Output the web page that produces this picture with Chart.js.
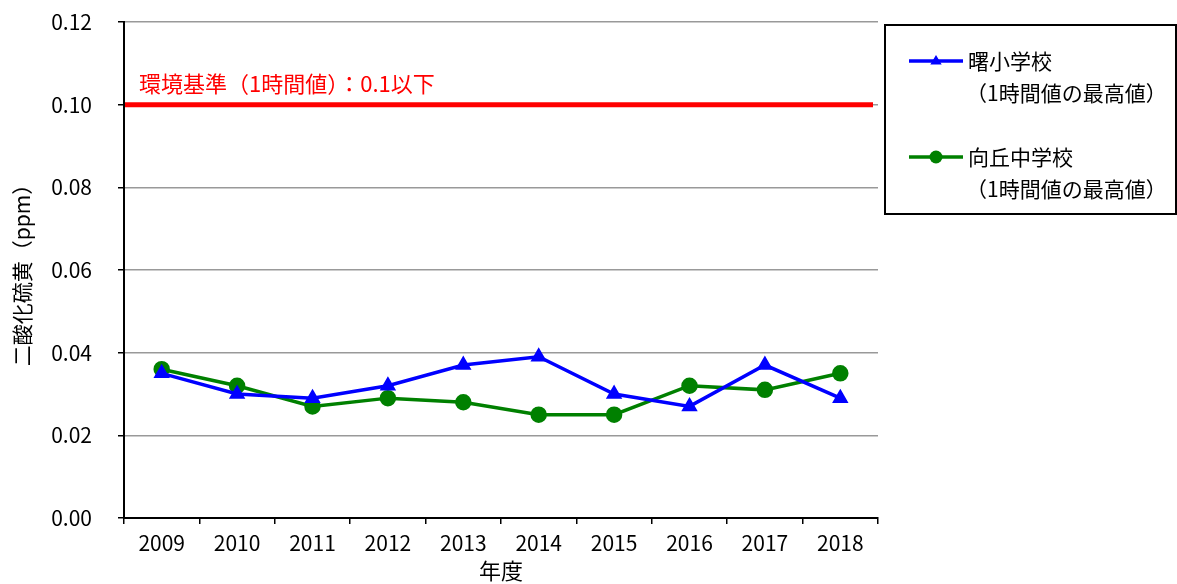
<!DOCTYPE html>
<html lang="ja">
<head>
<meta charset="utf-8">
<title>二酸化硫黄</title>
<script src="https://cdn.jsdelivr.net/npm/chart.js@4.4.1/dist/chart.umd.min.js"></script>
<style>
  html, body { margin: 0; padding: 0; background: #fff; }
  #wrap { width: 1177px; height: 584px; }
</style>
</head>
<body>
<div id="wrap"><canvas id="c" width="1177" height="584"></canvas></div>
<script>
const years = ['2009','2010','2011','2012','2013','2014','2015','2016','2017','2018'];
const akebonoValues = [0.035, 0.030, 0.029, 0.032, 0.037, 0.039, 0.030, 0.027, 0.037, 0.029];
const mukaigaokaValues = [0.036, 0.032, 0.027, 0.029, 0.028, 0.025, 0.025, 0.032, 0.031, 0.035];
const seriesNames = ['曙小学校', '向丘中学校'];
const seriesSubtitle = '（1時間値の最高値）';
const standardValue = 0.1;
const standardLabel = '環境基準（1時間値）：0.1以下';
const yTitle = '二酸化硫黄（ppm）';
const xTitle = '年度';

const jpFamily = '"Noto Sans CJK JP", sans-serif';

const standardPlugin = {
  id: 'standardLine',
  beforeDatasetsDraw(chart) {
    const {ctx, chartArea, scales} = chart;
    const y = scales.y.getPixelForValue(standardValue);
    ctx.save();
    ctx.strokeStyle = '#ff0000';
    ctx.lineWidth = 5;
    ctx.beginPath();
    ctx.moveTo(chartArea.left + 1, y);
    ctx.lineTo(chartArea.right - 5, y);
    ctx.stroke();
    ctx.fillStyle = '#ff0000';
    ctx.font = '22px ' + jpFamily;
    ctx.textBaseline = 'middle';
    ctx.textAlign = 'left';
    ctx.fillText(standardLabel, chartArea.left + 15, y - 21);
    ctx.restore();
  }
};

const legendPlugin = {
  id: 'boxLegend',
  afterDraw(chart) {
    const {ctx} = chart;
    ctx.save();
    ctx.strokeStyle = '#000';
    ctx.lineWidth = 2;
    ctx.strokeRect(885, 25, 291, 189);
    const rows = [61, 157];
    chart.data.datasets.forEach((ds, i) => {
      const y = rows[i];
      ctx.strokeStyle = ds.borderColor;
      ctx.lineWidth = ds.borderWidth;
      ctx.beginPath();
      ctx.moveTo(909, y);
      ctx.lineTo(963, y);
      ctx.stroke();
      ctx.fillStyle = ds.pointBackgroundColor;
      ctx.beginPath();
      if (ds.pointStyle === 'triangle') {
        const r = 6;
        ctx.moveTo(936, y - r);
        ctx.lineTo(936 + r * 0.95, y + r * 0.6);
        ctx.lineTo(936 - r * 0.95, y + r * 0.6);
        ctx.closePath();
      } else {
        ctx.arc(936, y, 6.5, 0, Math.PI * 2);
      }
      ctx.fill();
      ctx.fillStyle = '#000';
      ctx.font = '21px ' + jpFamily;
      ctx.textBaseline = 'middle';
      ctx.textAlign = 'left';
      ctx.fillText(ds.label, 968, y);
      ctx.fillText(seriesSubtitle, 966, y + 32);
    });
    ctx.restore();
  }
};

new Chart(document.getElementById('c'), {
  type: 'line',
  data: {
    labels: years,
    datasets: [
      {
        label: seriesNames[0],
        data: akebonoValues,
        borderColor: '#0000ff',
        backgroundColor: '#0000ff',
        pointBackgroundColor: '#0000ff',
        pointBorderColor: '#0000ff',
        borderWidth: 3.5,
        pointStyle: 'triangle',
        pointRadius: 6,
        tension: 0,
        fill: false
      },
      {
        label: seriesNames[1],
        data: mukaigaokaValues,
        borderColor: '#008000',
        backgroundColor: '#008000',
        pointBackgroundColor: '#008000',
        pointBorderColor: '#008000',
        borderWidth: 3.5,
        pointStyle: 'circle',
        pointRadius: 6.5,
        tension: 0,
        fill: false
      }
    ]
  },
  options: {
    responsive: false,
    animation: false,
    events: [],
    layout: { padding: { top: 22, right: 299, left: 0, bottom: 0 } },
    plugins: { legend: { display: false }, tooltip: { enabled: false } },
    scales: {
      x: {
        offset: true,
        grid: { offset: true, drawOnChartArea: false, drawTicks: true, tickLength: 6, tickColor: '#000', lineWidth: 1.5 },
        border: { color: '#000', width: 2 },
        ticks: { color: '#000', font: { family: jpFamily, size: 21 }, padding: 6, maxRotation: 0, autoSkip: false },
        title: { display: true, text: xTitle, color: '#000', font: { family: jpFamily, size: 22 }, padding: { top: 0, bottom: 0 } },
        afterFit(s) { s.height = 66; s.paddingLeft = 0; s.paddingRight = 0; }
      },
      y: {
        min: 0,
        max: 0.12,
        ticks: {
          stepSize: 0.02,
          color: '#000',
          font: { family: jpFamily, size: 21 },
          padding: 26,
          callback: v => v.toFixed(2)
        },
        grid: { color: '#999', lineWidth: 1.5, tickColor: '#000', tickLength: 6 },
        border: { color: '#000', width: 2 },
        title: { display: true, text: yTitle, color: '#000', font: { family: jpFamily, size: 21 }, padding: { top: 9, bottom: 0 } },
        afterFit(s) { s.width = 124; s.paddingTop = 0; s.paddingBottom = 0; }
      }
    }
  },
  plugins: [standardPlugin, legendPlugin]
});
</script>
</body>
</html>
